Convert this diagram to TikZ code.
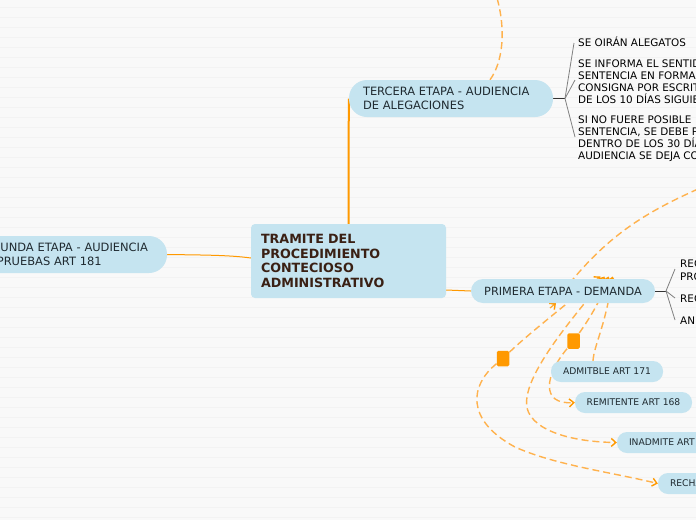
\documentclass[tikz,border=0pt]{standalone}
\usepackage{fontspec}
\setmainfont{DejaVu Sans}
\usetikzlibrary{arrows.meta}
\pgfdeclarelayer{under}
\pgfsetlayers{under,main}
\definecolor{bgc}{HTML}{F9F9F9}
\definecolor{rulec}{HTML}{F3F3F3}
\definecolor{boxc}{HTML}{C5E4F0}
\definecolor{orangec}{HTML}{FF9900}
\definecolor{dashc}{HTML}{FFB24D}
\definecolor{inkc}{HTML}{1F2A30}
\definecolor{rootc}{HTML}{3A2014}
\definecolor{fanc}{HTML}{808080}
\tikzset{
 x=1pt,y=-1pt,
 barb/.tip={Straight Barb[length=4.5pt,width=8pt,line width=1.4pt,color=orangec]},
 rootbox/.style={fill=boxc,rounded corners=4pt,minimum width=195pt,minimum height=74pt,text width=175pt,inner sep=0pt,align=left,font=\fontsize{12.7}{14.6}\selectfont\bfseries,text=rootc},
 stagebox/.style={fill=boxc,rounded corners=18pt,minimum width=204pt,minimum height=37pt,text width=176pt,inner sep=0pt,align=left,font=\fontsize{11.45}{14}\selectfont,text=inkc},
 firstbox/.style={fill=boxc,rounded corners=12pt,minimum width=184pt,minimum height=24pt,inner sep=0pt,font=\fontsize{11.3}{12}\selectfont,text=inkc},
 smallbox/.style={fill=boxc,rounded corners=10pt,minimum height=21pt,inner sep=0pt,font=\fontsize{9.2}{10}\selectfont,text=inkc},
 leaf/.style={inner sep=0pt,anchor=base west,align=left,font=\fontsize{10.4}{12}\selectfont,text=black},
 mainline/.style={orangec,line width=2pt},
 thinline/.style={orangec,line width=1pt},
 rel/.style={dashc,line width=1.4pt,dash pattern=on 7pt off 4pt},
 relarrow/.style={rel,-barb},
 relboth/.style={rel,barb-barb},
 solidarrow/.style={orangec!80!white,line width=1.2pt,-barb},
 handle/.style={fill=orangec,rounded corners=1.5pt,minimum width=12.5pt,minimum height=15.5pt,inner sep=0pt},
 fan/.style={fanc,line width=.8pt},
 stem/.style={black!80,line width=1pt},
}
\begin{document}
\begin{tikzpicture}
\useasboundingbox (0,0) rectangle (696,520);
\clip (0,0) rectangle (696,520);
\coordinate (relTopEnd) at (497,-2);
\coordinate (relRightEnd) at (698,189);
\coordinate (h1) at (503,358.5);
\coordinate (h2) at (573.5,341);
\coordinate (arrA) at (556,303);
\coordinate (arrAtail) at (550,308);
\coordinate (arrAjoin) at (553,305);
\coordinate (arrB) at (600.5,276.5);
\coordinate (arrC) at (604.5,276.5);
\coordinate (arrD) at (608.5,276.5);
\coordinate (arrE) at (612.5,276.5);
\coordinate (fanT) at (565,98.5);
\coordinate (fanP) at (666,291);
\node[stagebox] (third) at (451,98.5) {\raisebox{-2pt}{TERCERA ETAPA - AUDIENCIA}\\\raisebox{-2pt}{DE ALEGACIONES}};
\node[firstbox] (first) at (563,291) {\raisebox{-1pt}{PRIMERA ETAPA - DEMANDA}};
\node[stagebox] (second) at (65,254.5) {\raisebox{-2pt}{SEGUNDA ETAPA - AUDIENCIA}\\\raisebox{-2pt}{DE PRUEBAS ART 181}};
\node[rootbox] (root) at (348.5,261) {\raisebox{-1pt}{TRAMITE DEL}\\\raisebox{-1pt}{PROCEDIMIENTO}\\\raisebox{-1pt}{CONTECIOSO}\\\raisebox{-1pt}{ADMINISTRATIVO}};
\node[smallbox,minimum width=112pt] (admit) at (607,371.5) {\raisebox{-1pt}{ADMITBLE ART 171}};
\node[smallbox,minimum width=117pt] (remit) at (633.5,402.5) {\raisebox{-1pt}{REMITENTE ART 168}};
\node[smallbox,minimum width=130pt,text width=106pt,align=left] (inad) at (682,442.5) {\raisebox{-1pt}{INADMITE ART 170}};
\node[smallbox,minimum width=130pt,text width=106pt,align=left] (rech) at (723,483.5) {\raisebox{-1pt}{RECHAZA}};
\node[handle] (hA) at (h1) {};
\node[handle] (hB) at (h2) {};
\node[leaf] (t1) at (578,46) {SE OIRÁN ALEGATOS};
\node[leaf] (t2) at (578,103) {SE INFORMA EL SENTIDO\\SENTENCIA EN FORMA\\CONSIGNA POR ESCRITO\\DE LOS 10 DÍAS SIGUIENTES};
\node[leaf] (t3) at (578,159) {SI NO FUERE POSIBLE\\SENTENCIA, SE DEBE P\\DENTRO DE LOS 30 DÍAS\\AUDIENCIA SE DEJA CONSTANCIA};
\node[leaf] (p1) at (680,280) {REQUISITOS\\[1pt]PROCESALES};
\node[leaf] (p2) at (680,302) {REQUISITOS};
\node[leaf] (p3) at (680,324) {ANEXOS};
\begin{pgfonlayer}{under}
\fill[bgc] (0,0) rectangle (696,520);
\foreach \r in {7,17,...,517} \draw[rulec,line width=.8pt] (0,\r) -- (696,\r);
\draw[rel] (third.north -| 490,80) .. controls (503,62) and (506,30) .. (relTopEnd);
\draw[rel] (relRightEnd) .. controls (640,215) and (600,240) .. (arrAjoin);
\draw[relarrow] (admit.north -| 593,361) .. controls (594,345) and (606,325) .. (arrE);
\draw[relarrow] (hB) .. controls (585,325) and (602,300) .. (arrD);
\draw[relarrow] (hB) .. controls (545,375) and (540,405) .. (remit.west);
\draw[relboth] (arrC) .. controls (592,298) and (520,372) .. (527,408) .. controls (533,432) and (575,442) .. (inad.west);
\draw[relarrow] (hA) .. controls (470,385) and (465,420) .. (515,447) .. controls (555,465) and (610,472) .. (rech.west);
\draw[relarrow] (hA) .. controls (525,337) and (565,305) .. (arrB);
\draw[mainline] (root.north) -- (third.west);
\draw[thinline] (second.east) .. controls (200,255) and (230,255) .. (root.west |- 251,258);
\draw[thinline] (root.east |- 446,290) -- (first.west);
\draw[stem] (third.east) -- (fanT);
\draw[stem] (first.east) -- (fanP);
\draw[fan] (fanT) -- (574,43);
\draw[fan] (fanT) -- (575,80);
\draw[fan] (fanT) -- (575,137);
\draw[fan] (fanP) -- (675,269);
\draw[fan] (fanP) -- (675,298);
\draw[fan] (fanP) -- (675,320);
\draw[solidarrow] (arrAtail) -- (arrA);
\end{pgfonlayer}
\end{tikzpicture}
\end{document}
